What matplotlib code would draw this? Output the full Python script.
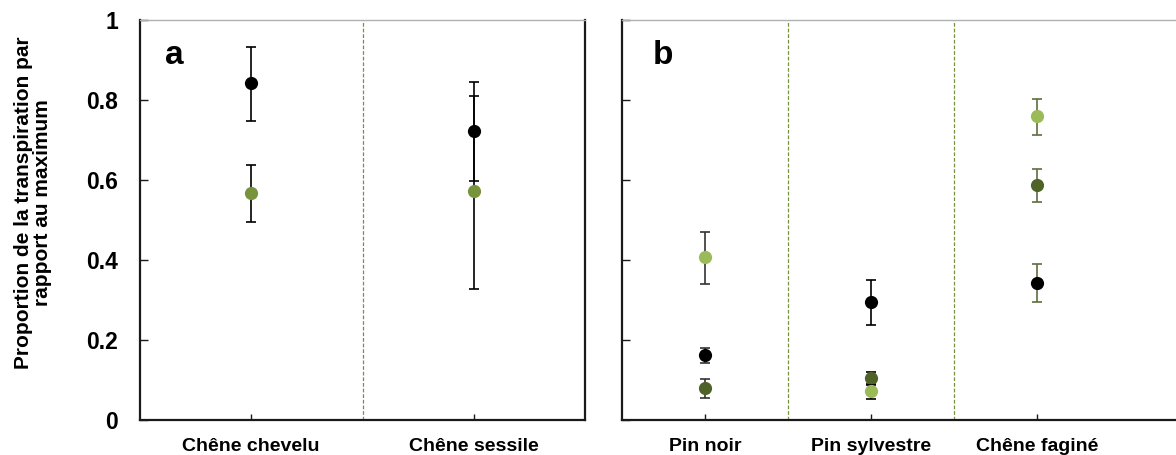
import matplotlib
matplotlib.use("Agg")
import matplotlib.pyplot as plt
import numpy as np

plt.rcParams['font.family'] = ['Liberation Sans', 'DejaVu Sans']

# ---- data ----
categories_a = ["Chêne chevelu", "Chêne sessile"]
a_black = [0.842, 0.722]
a_black_lo = [0.748, 0.598]
a_black_hi = [0.933, 0.810]
a_green = [0.568, 0.572]
a_green_lo = [0.495, 0.327]
a_green_hi = [0.638, 0.844]

categories_b = ["Pin noir", "Pin sylvestre", "Chêne faginé"]
b_black = [0.162, 0.295, 0.343]
b_black_lo = [0.142, 0.238, 0.294]
b_black_hi = [0.180, 0.351, 0.391]
b_dark = [0.080, 0.104, 0.587]
b_dark_lo = [0.056, 0.090, 0.546]
b_dark_hi = [0.103, 0.120, 0.628]
b_light = [0.407, 0.072, 0.759]
b_light_lo = [0.340, 0.052, 0.713]
b_light_hi = [0.471, 0.088, 0.802]

y_ticks = [0, 0.2, 0.4, 0.6, 0.8, 1]
y_ticklabels = ["0", "0.2", "0.4", "0.6", "0.8", "1"]
ylabel = "Proportion de la transpiration par\nrapport au maximum"

# ---- styles ----
C_BLACK = "#000000"
C_MID = "#77933C"
C_DARK = "#4F6228"
C_LIGHT = "#9BBB59"
ERR_B = ["#333333", "#000000", "#5C6E3C"]
MS = 9.5

W, H = 1176, 455
fig = plt.figure(figsize=(W / 100, H / 100), dpi=100)

def fx(px):
    return px / W

def fy(py):
    return 1 - py / H

ax_a = fig.add_axes([fx(140), fy(420), fx(585) - fx(140), fy(20) - fy(420)])
ax_b = fig.add_axes([fx(622), fy(420), 1 - fx(622), fy(20) - fy(420)])


def style(ax, right_visible=True):
    ax.set_ylim(0, 1)
    for s in ["left", "bottom"]:
        ax.spines[s].set_linewidth(1.6)
        ax.spines[s].set_color("#1a1a1a")
    ax.spines["top"].set_color("#b0b0b0")
    ax.spines["top"].set_linewidth(1.0)
    ax.spines["right"].set_color("#1a1a1a")
    ax.spines["right"].set_linewidth(1.6)
    ax.spines["right"].set_visible(right_visible)
    ax.tick_params(axis="y", direction="in", length=6, width=1.0, color="#1a1a1a",
                   pad=16)
    ax.tick_params(axis="x", direction="in", length=4, width=1.0, color="#1a1a1a",
                   pad=13)


def draw(ax, xs, vals, lo, hi, mcolor, ecolors, z):
    for i, x in enumerate(xs):
        ec = ecolors[i] if isinstance(ecolors, list) else ecolors
        ax.errorbar([x], [vals[i]], yerr=[[vals[i] - lo[i]], [hi[i] - vals[i]]],
                    fmt="none", ecolor=ec, elinewidth=1.2, capsize=3.5,
                    capthick=1.2, zorder=z)
        ax.plot([x], [vals[i]], "o", color=mcolor, markersize=MS,
                markeredgewidth=0, zorder=z + 0.5)


# ---- panel a ----
xa = np.arange(len(categories_a)) + 0.5
ax_a.set_xlim(0, len(categories_a))
ax_a.set_xticks(xa)
ax_a.set_xticklabels(categories_a, fontsize=14, fontweight="bold")
ax_a.set_yticks(y_ticks)
ax_a.set_yticklabels(y_ticklabels, fontsize=16.5, fontweight="bold")
for d in range(1, len(categories_a)):
    ax_a.axvline(d, color=C_MID, linestyle=(0, (3, 1.5)), linewidth=0.9, zorder=1)
draw(ax_a, xa, a_green, a_green_lo, a_green_hi, C_MID, "#000000", 3)
draw(ax_a, xa, a_black, a_black_lo, a_black_hi, C_BLACK, "#000000", 4)
ax_a.set_ylabel(ylabel, fontsize=15, fontweight="bold", linespacing=1.0)
ax_a.yaxis.set_label_coords(-0.197, 0.544)
style(ax_a)
ax_a.text(0.056, 0.890, "a", transform=ax_a.transAxes, fontsize=24,
          fontweight="bold", ha="left", va="baseline")

# ---- panel b ----
xb = np.arange(len(categories_b)) + 0.5
ax_b.set_xlim(0, (1176 - 622) / 166.0)
ax_b.set_xticks(xb)
ax_b.set_xticklabels(categories_b, fontsize=14, fontweight="bold")
ax_b.set_yticks(y_ticks)
ax_b.set_yticklabels([])
for d in range(1, len(categories_b)):
    ax_b.axvline(d, color=C_MID, linestyle=(0, (3, 1.5)), linewidth=0.9, zorder=1)
draw(ax_b, xb, b_black, b_black_lo, b_black_hi, C_BLACK, ERR_B, 3)
draw(ax_b, xb, b_dark, b_dark_lo, b_dark_hi, C_DARK, ERR_B, 4)
draw(ax_b, xb, b_light, b_light_lo, b_light_hi, C_LIGHT, ERR_B, 5)
style(ax_b, right_visible=False)
ax_b.text(0.056, 0.890, "b", transform=ax_b.transAxes, fontsize=24,
          fontweight="bold", ha="left", va="baseline")

fig.savefig("out.png", dpi=100)
